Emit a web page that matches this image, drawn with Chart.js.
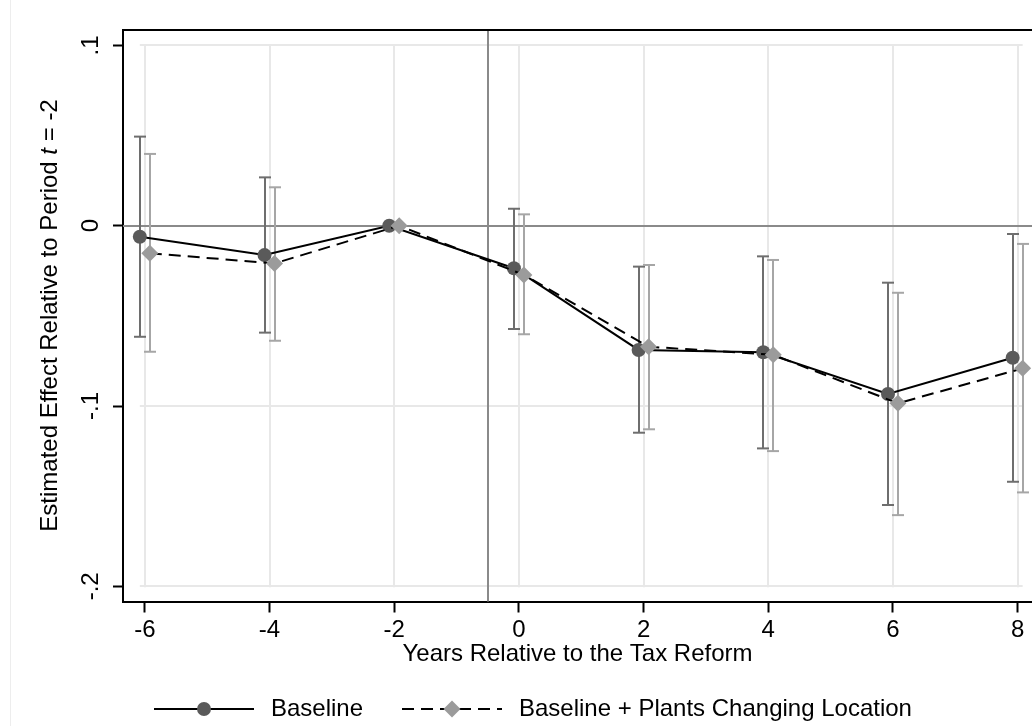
<!DOCTYPE html>
<html lang="en">
<head>
<meta charset="utf-8">
<title>Estimated effect relative to period t = -2</title>
<script src="https://cdn.jsdelivr.net/npm/chart.js@4.4.1/dist/chart.umd.min.js"></script>
<style>
    html, body { margin: 0; padding: 0; background: #fff; }
    canvas { display: block; }
</style>
</head>
<body>
<canvas id="grafica" width="1032" height="726"></canvas>
<script>
// === Datos ===
const anios = [-6, -4, -2, 0, 2, 4, 6, 8];

const baseline = [-0.0061, -0.0163, 0, -0.0236, -0.0689, -0.0702, -0.0933, -0.0732];
const baselineInf = [-0.0616, -0.0593, 0, -0.0573, -0.1148, -0.1235, -0.1549, -0.142];
const baselineSup = [0.0494, 0.0268, 0, 0.0094, -0.0227, -0.017, -0.0316, -0.0046];

const plantas = [-0.0153, -0.0209, 0, -0.0273, -0.0671, -0.0716, -0.0985, -0.0791];
const plantasInf = [-0.0699, -0.0638, 0, -0.0602, -0.1129, -0.125, -0.1605, -0.1479];
const plantasSup = [0.0398, 0.0213, 0, 0.0063, -0.0218, -0.019, -0.0372, -0.0101];

const nombresSeries = ["Baseline", "Baseline + Plants Changing Location"];
const ticksX = [-6, -4, -2, 0, 2, 4, 6, 8];
const ticksY = [-0.2, -0.1, 0, 0.1];
const etiquetasY = ["-.2", "-.1", "0", ".1"];
const tituloX = "Years Relative to the Tax Reform";
const tituloY = ["Estimated Effect Relative to Period ", "t", " = -2"];
const periodoReforma = -0.5;
const desfase = 0.08; // las dos series van un poco corridas en x

const fuente = "'Liberation Sans', Arial, Helvetica, sans-serif";
const tamFuente = 24;

Chart.defaults.font.family = fuente;
Chart.defaults.color = "#000";

function linea(ctx, x1, y1, x2, y2) {
    ctx.beginPath();
    ctx.moveTo(x1, y1);
    ctx.lineTo(x2, y2);
    ctx.stroke();
}

function marcador(ctx, estilo, radio, x, y) {
    ctx.beginPath();
    if (estilo === "circle") {
        ctx.arc(x, y, radio, 0, Math.PI * 2);
    } else {
        ctx.moveTo(x, y - radio);
        ctx.lineTo(x + radio, y);
        ctx.lineTo(x, y + radio);
        ctx.lineTo(x - radio, y);
        ctx.closePath();
    }
    ctx.fill();
}

// === Rejilla, línea de cero, línea de la reforma y marco ===
const fondoStata = {
    id: "fondoStata",
    beforeDraw(chart) {
        const { ctx, height } = chart;
        ctx.save();
        ctx.strokeStyle = "#ededed";
        ctx.lineWidth = 1;
        linea(ctx, 10.5, 0, 10.5, height);
        ctx.restore();
    },
    beforeDatasetsDraw(chart) {
        const { ctx, chartArea: a, scales: { x, y } } = chart;
        ctx.save();
        const yArriba = y.getPixelForValue(ticksY[ticksY.length - 1]);
        const yAbajo = y.getPixelForValue(ticksY[0]);
        const xIzq = x.getPixelForValue(ticksX[0]) - 5;
        const xDer = x.getPixelForValue(ticksX[ticksX.length - 1]) + 5;

        ctx.strokeStyle = "#e8e8e8";
        ctx.lineWidth = 2;
        ticksX.forEach((v) => {
            const px = Math.round(x.getPixelForValue(v));
            linea(ctx, px, yArriba - 1, px, yAbajo + 1);
        });
        ticksY.forEach((v) => {
            if (v === 0) return;
            const py = Math.round(y.getPixelForValue(v));
            linea(ctx, xIzq, py, xDer, py);
        });

        ctx.strokeStyle = "#8a8a8a";
        ctx.lineWidth = 2;
        const y0 = Math.round(y.getPixelForValue(0));
        linea(ctx, a.left, y0, a.right, y0);
        const xr = Math.round(x.getPixelForValue(periodoReforma));
        linea(ctx, xr, a.top, xr, a.bottom);

        ctx.strokeStyle = "#000";
        ctx.lineWidth = 2;
        linea(ctx, a.left, Math.round(a.top), a.right, Math.round(a.top));
        ctx.restore();
    },
};

// === Intervalos de confianza ===
const barrasError = {
    id: "barrasError",
    beforeDatasetsDraw(chart) {
        const { ctx, scales: { y } } = chart;
        chart.data.datasets.forEach((ds, i) => {
            const meta = chart.getDatasetMeta(i);
            ctx.save();
            ctx.strokeStyle = ds.colorBarra;
            ctx.lineWidth = 2;
            meta.data.forEach((pt, j) => {
                const inf = ds.limInf[j];
                const sup = ds.limSup[j];
                if (inf === sup) return;
                const px = Math.round(pt.x);
                const y1 = y.getPixelForValue(inf);
                const y2 = y.getPixelForValue(sup);
                linea(ctx, px, y1, px, y2);
                linea(ctx, px - 6, y1, px + 6, y1);
                linea(ctx, px - 6, y2, px + 6, y2);
            });
            ctx.restore();
        });
    },
};

// === Título del eje y con la t en cursiva ===
const tituloEjeY = {
    id: "tituloEjeY",
    afterDraw(chart) {
        const { ctx, chartArea: a } = chart;
        const normal = `${tamFuente}px ${fuente}`;
        const cursiva = `italic ${tamFuente}px ${fuente}`;
        const partes = tituloY.map((t, i) => ({ t, font: i === 1 ? cursiva : normal }));
        ctx.save();
        let total = 0;
        partes.forEach((p) => {
            ctx.font = p.font;
            p.w = ctx.measureText(p.t).width;
            total += p.w;
        });
        ctx.translate(50, (a.top + a.bottom) / 2);
        ctx.rotate(-Math.PI / 2);
        ctx.fillStyle = "#000";
        ctx.textAlign = "left";
        ctx.textBaseline = "middle";
        let px = -total / 2;
        partes.forEach((p) => {
            ctx.font = p.font;
            ctx.fillText(p.t, px, 0);
            px += p.w;
        });
        ctx.restore();
    },
};

// === Leyenda al pie ===
const inicioLeyenda = [154, 402];
const leyendaStata = {
    id: "leyendaStata",
    afterDraw(chart) {
        const { ctx } = chart;
        const yl = 709;
        chart.data.datasets.forEach((ds, i) => {
            const x0 = inicioLeyenda[i];
            ctx.save();
            ctx.strokeStyle = ds.borderColor;
            ctx.lineWidth = ds.borderWidth;
            ctx.setLineDash(ds.borderDash || []);
            linea(ctx, x0, yl, x0 + 100, yl);
            ctx.setLineDash([]);
            ctx.fillStyle = ds.pointBackgroundColor;
            marcador(ctx, ds.pointStyle, ds.pointRadius, x0 + 50, yl);
            ctx.fillStyle = "#000";
            ctx.font = `${tamFuente}px ${fuente}`;
            ctx.textAlign = "left";
            ctx.textBaseline = "middle";
            ctx.fillText(ds.label, x0 + 117, yl);
            ctx.restore();
        });
    },
};

const ctx = document.getElementById("grafica").getContext("2d");
new Chart(ctx, {
    type: "line",
    data: {
        datasets: [
            {
                label: nombresSeries[0],
                data: anios.map((a, i) => ({ x: a - desfase, y: baseline[i] })),
                limInf: baselineInf,
                limSup: baselineSup,
                colorBarra: "#6e6e6e",
                borderColor: "#000",
                borderWidth: 2,
                pointStyle: "circle",
                pointRadius: 7,
                pointBackgroundColor: "#5a5a5a",
                pointBorderWidth: 0,
                tension: 0,
                clip: false,
                order: 1,
            },
            {
                label: nombresSeries[1],
                data: anios.map((a, i) => ({ x: a + desfase, y: plantas[i] })),
                limInf: plantasInf,
                limSup: plantasSup,
                colorBarra: "#a6a6a6",
                borderColor: "#000",
                borderWidth: 2,
                borderDash: [12, 7],
                pointStyle: "rectRot",
                pointRadius: 8.5,
                pointBackgroundColor: "#9b9b9b",
                pointBorderWidth: 0,
                tension: 0,
                clip: false,
                order: 0,
            },
        ],
    },
    options: {
        responsive: false,
        animation: false,
        layout: {
            autoPadding: false,
            padding: { top: 29.5, left: 0, right: 0, bottom: 0 },
        },
        plugins: {
            legend: { display: false },
            tooltip: { enabled: false },
        },
        scales: {
            x: {
                type: "linear",
                min: -6.35,
                max: 8.23,
                afterBuildTicks: (eje) => {
                    eje.ticks = ticksX.map((v) => ({ value: v }));
                },
                afterFit: (eje) => {
                    eje.height = 124.5;
                    eje.paddingLeft = 0;
                    eje.paddingRight = 0;
                },
                grid: {
                    drawOnChartArea: false,
                    tickLength: 11,
                    tickColor: "#000",
                    tickWidth: 2,
                },
                border: { display: true, color: "#000", width: 2 },
                ticks: {
                    font: { size: tamFuente },
                    color: "#000",
                    padding: 3,
                    maxRotation: 0,
                    autoSkip: false,
                    callback: (v) => String(v),
                },
                title: {
                    display: true,
                    text: tituloX,
                    font: { size: tamFuente },
                    color: "#000",
                    padding: { top: 0, bottom: 57 },
                },
            },
            y: {
                type: "linear",
                min: -0.2084,
                max: 0.1088,
                afterBuildTicks: (eje) => {
                    eje.ticks = ticksY.map((v) => ({ value: v }));
                },
                afterFit: (eje) => {
                    eje.width = 123;
                    eje.paddingTop = 0;
                    eje.paddingBottom = 0;
                },
                grid: {
                    drawOnChartArea: false,
                    tickLength: 10,
                    tickColor: "#000",
                    tickWidth: 2,
                },
                border: { display: true, color: "#000", width: 2 },
                ticks: {
                    font: { size: tamFuente },
                    color: "#000",
                    padding: 8,
                    minRotation: 90,
                    maxRotation: 90,
                    crossAlign: "center",
                    autoSkip: false,
                    callback: (v, i) => etiquetasY[i],
                },
            },
        },
    },
    plugins: [fondoStata, barrasError, tituloEjeY, leyendaStata],
});
</script>
</body>
</html>
